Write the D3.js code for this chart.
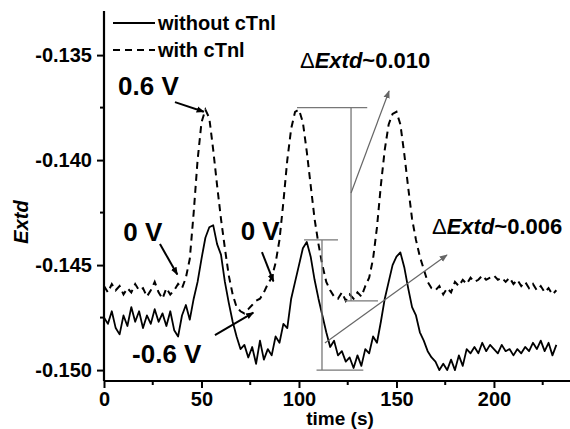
<!DOCTYPE html>
<html>
<head>
<meta charset="utf-8">
<script src="https://cdn.jsdelivr.net/npm/d3@7"></script>
<style>
  body { margin: 0; background: #fff; }
  svg { display: block; font-family: "Liberation Sans", Arial, sans-serif; }
  .tick text { font-weight: bold; font-size: 20px; }
</style>
</head>
<body>
<svg id="chart" width="570" height="429"></svg>
<script>
// time axis (s), shared by both curves
var times = d3.range(0, 233, 2);

// Extd without cTnI (solid)
var withoutCTnI = [
  -0.1475, -0.1478, -0.1472, -0.1480, -0.1483, -0.1474, -0.1479, -0.1470, -0.1477, -0.1472,
  -0.1480, -0.1474, -0.1478, -0.1471, -0.1477, -0.1473, -0.1479, -0.1472, -0.1481, -0.1484,
  -0.1474, -0.1469, -0.1476, -0.1466, -0.1458, -0.1447, -0.1437, -0.1432, -0.1431, -0.1440,
  -0.1445, -0.1458, -0.1468, -0.1477, -0.1484, -0.1490, -0.1488, -0.1494, -0.1489, -0.1497,
  -0.1486, -0.1495, -0.1490, -0.1493, -0.1484, -0.1487, -0.1478, -0.1480, -0.1466, -0.1458,
  -0.1450, -0.1442, -0.1439, -0.1446, -0.1457, -0.1466, -0.1474, -0.1482, -0.1489, -0.1486,
  -0.1493, -0.1491, -0.1496, -0.1494, -0.1499, -0.1493, -0.1498, -0.1490, -0.1492, -0.1484,
  -0.1487, -0.1477, -0.1466, -0.1458, -0.1450, -0.1446, -0.1444, -0.1451, -0.1461, -0.1470,
  -0.1474, -0.1482, -0.1486, -0.1491, -0.1494, -0.1496, -0.1500, -0.1497, -0.1500, -0.1495,
  -0.1500, -0.1493, -0.1498, -0.1490, -0.1492, -0.1489, -0.1492, -0.1487, -0.1491, -0.1488,
  -0.1490, -0.1492, -0.1488, -0.1491, -0.1490, -0.1493, -0.1490, -0.1492, -0.1489, -0.1491,
  -0.1487, -0.1490, -0.1486, -0.1491, -0.1487, -0.1493, -0.1488
];

// Extd with cTnI (dashed)
var withCTnI = [
  -0.1460, -0.1463, -0.1459, -0.1462, -0.1460, -0.1464, -0.1461, -0.1463, -0.1459, -0.1462,
  -0.1461, -0.1465, -0.1462, -0.1458, -0.1463, -0.1466, -0.1461, -0.1464, -0.1462, -0.1459,
  -0.1461, -0.1456, -0.1447, -0.1425, -0.1400, -0.1382, -0.1376, -0.1380, -0.1395, -0.1412,
  -0.1428, -0.1442, -0.1455, -0.1464, -0.1470, -0.1472, -0.1473, -0.1471, -0.1469, -0.1467,
  -0.1466, -0.1463, -0.1459, -0.1456, -0.1449, -0.1438, -0.1420, -0.1400, -0.1385, -0.1377,
  -0.1376, -0.1382, -0.1396, -0.1412, -0.1428, -0.1440, -0.1450, -0.1458, -0.1462, -0.1465,
  -0.1466, -0.1463, -0.1467, -0.1464, -0.1466, -0.1463, -0.1465, -0.1460, -0.1456, -0.1447,
  -0.1432, -0.1412, -0.1395, -0.1383, -0.1378, -0.1377, -0.1383, -0.1397, -0.1413, -0.1428,
  -0.1438, -0.1446, -0.1452, -0.1458, -0.1461, -0.1462, -0.1460, -0.1464, -0.1461, -0.1463,
  -0.1458, -0.1460, -0.1457, -0.1459, -0.1456, -0.1458, -0.1457, -0.1455, -0.1457, -0.1456,
  -0.1455, -0.1457, -0.1456, -0.1458, -0.1456, -0.1459, -0.1457, -0.1460, -0.1458, -0.1461,
  -0.1459, -0.1462, -0.1460, -0.1463, -0.1461, -0.1464, -0.1462
];

var xTicks = [0, 50, 100, 150, 200];
var yTicks = [-0.150, -0.145, -0.140, -0.135];

var svg = d3.select("#chart");

var x = d3.scaleLinear().domain([0, 239]).range([104, 570]);
var y = d3.scaleLinear().domain([-0.15052, -0.1329]).range([381, 11]);

// markers for the arrows
var defs = svg.append("defs");
[["headBlack", "#000"], ["headGray", "#666"]].forEach(function(m) {
  defs.append("marker")
    .attr("id", m[0])
    .attr("viewBox", "0 0 10 10")
    .attr("refX", 9).attr("refY", 5)
    .attr("markerWidth", m[0] === "headBlack" ? 4 : 8)
    .attr("markerHeight", m[0] === "headBlack" ? 4 : 8)
    .attr("markerUnits", m[0] === "headBlack" ? "strokeWidth" : "userSpaceOnUse")
    .attr("orient", "auto")
    .append("path")
    .attr("d", "M0,1 L10,5 L0,9 Z")
    .attr("fill", m[1]);
});

// axes
var xAxis = d3.axisBottom(x).tickValues(xTicks).tickSize(7).tickPadding(4).tickFormat(d3.format("d"));
var yAxis = d3.axisLeft(y).tickValues(yTicks).tickSize(7).tickPadding(5).tickFormat(d3.format(".3f"));

var gx = svg.append("g").attr("transform", "translate(0,381)").call(xAxis);
var gy = svg.append("g").attr("transform", "translate(104,0)").call(yAxis);

// minor ticks
gx.selectAll(".minor").data([25, 75, 125, 175, 225]).enter().append("line")
  .attr("class", "minor").attr("x1", x).attr("x2", x).attr("y1", 0).attr("y2", 4)
  .attr("stroke", "#000").attr("stroke-width", 2);
gy.selectAll(".minor").data([-0.1475, -0.1425, -0.1375]).enter().append("line")
  .attr("class", "minor").attr("y1", y).attr("y2", y).attr("x1", 0).attr("x2", -4)
  .attr("stroke", "#000").attr("stroke-width", 2);

[gx, gy].forEach(function(g) {
  g.select(".domain").attr("stroke-width", 2.2);
  g.selectAll(".tick line").attr("stroke-width", 2);
  g.selectAll(".tick text").attr("fill", "#000");
});
gy.select(".domain").attr("d", "M0,381V11");
gx.select(".domain").attr("d", "M104,0H570");
gy.selectAll(".tick text").text(function(d) { return d.toFixed(3); });

// axis titles
svg.append("text")
  .attr("x", 340).attr("y", 425)
  .attr("text-anchor", "middle")
  .style("font-weight", "bold").style("font-size", "19px")
  .text("time (s)");
svg.append("text")
  .attr("transform", "translate(28,222) rotate(-90)")
  .attr("text-anchor", "middle")
  .style("font-weight", "bold").style("font-style", "italic").style("font-size", "20px")
  .text("Extd");

// curves
var line = d3.line()
  .x(function(d) { return x(d[0]); })
  .y(function(d) { return y(d[1]); });

svg.append("path")
  .datum(times.map(function(t, i) { return [t, withoutCTnI[i]]; }))
  .attr("d", line)
  .attr("fill", "none").attr("stroke", "#000").attr("stroke-width", 1.8)
  .attr("stroke-linejoin", "round");

svg.append("path")
  .datum(times.map(function(t, i) { return [t, withCTnI[i]]; }))
  .attr("d", line)
  .attr("fill", "none").attr("stroke", "#000").attr("stroke-width", 2)
  .attr("stroke-dasharray", "7,5");

// legend
svg.append("line").attr("x1", 113).attr("x2", 155).attr("y1", 23).attr("y2", 23)
  .attr("stroke", "#000").attr("stroke-width", 2);
svg.append("line").attr("x1", 113).attr("x2", 155).attr("y1", 50).attr("y2", 50)
  .attr("stroke", "#000").attr("stroke-width", 2).attr("stroke-dasharray", "7,5");
svg.append("text").attr("x", 158).attr("y", 30)
  .style("font-weight", "bold").style("font-size", "20px").text("without cTnl");
svg.append("text").attr("x", 158).attr("y", 57)
  .style("font-weight", "bold").style("font-size", "20px").text("with cTnl");

// difference brackets (data units)
var brackets = [
  [[99, -0.1375], [135, -0.1375]],
  [[126.7, -0.1375], [126.7, -0.1467]],
  [[123.6, -0.1467], [140.5, -0.1467]],
  [[102.6, -0.1438], [120, -0.1438]],
  [[111.8, -0.1438], [111.8, -0.1500]],
  [[109, -0.1500], [133, -0.1500]]
];
svg.selectAll(".bracket").data(brackets).enter().append("line")
  .attr("class", "bracket")
  .attr("x1", function(d) { return x(d[0][0]); }).attr("y1", function(d) { return y(d[0][1]); })
  .attr("x2", function(d) { return x(d[1][0]); }).attr("y2", function(d) { return y(d[1][1]); })
  .attr("stroke", "#777").attr("stroke-width", 1.3);

// arrows (data units)
var arrows = [
  { from: [36.4, -0.13724], to: [51.2, -0.13770], c: "black" },
  { from: [28.7, -0.14400], to: [37.6, -0.14545], c: "black" },
  { from: [81.0, -0.14438], to: [86.9, -0.14578], c: "black" },
  { from: [56.9, -0.14833], to: [76.6, -0.14726], c: "black" },
  { from: [126.7, -0.14157], to: [146.2, -0.13671], c: "gray" },
  { from: [113.3, -0.14871], to: [175.9, -0.14452], c: "gray" }
];
svg.selectAll(".arrow").data(arrows).enter().append("line")
  .attr("class", "arrow")
  .attr("x1", function(d) { return x(d.from[0]); }).attr("y1", function(d) { return y(d.from[1]); })
  .attr("x2", function(d) { return x(d.to[0]); }).attr("y2", function(d) { return y(d.to[1]); })
  .attr("stroke", function(d) { return d.c === "black" ? "#000" : "#666"; })
  .attr("stroke-width", function(d) { return d.c === "black" ? 2 : 1.2; })
  .attr("marker-end", function(d) { return d.c === "black" ? "url(#headBlack)" : "url(#headGray)"; });

// voltage labels
var labels = [
  { t: 7.2, v: -0.13690, text: "0.6 V" },
  { t: 9.9, v: -0.14386, text: "0 V" },
  { t: 70.1, v: -0.14381, text: "0 V" },
  { t: 14.4, v: -0.14967, text: "-0.6 V" }
];
svg.selectAll(".vlabel").data(labels).enter().append("text")
  .attr("class", "vlabel")
  .attr("x", function(d) { return x(d.t); }).attr("y", function(d) { return y(d.v); })
  .style("font-weight", "bold").style("font-size", "26px")
  .text(function(d) { return d.text; });

// delta labels
var deltas = [
  { t: 100.5, v: -0.13562, val: "~0.010" },
  { t: 168.2, v: -0.14352, val: "~0.006" }
];
deltas.forEach(function(d) {
  var t = svg.append("text")
    .attr("x", x(d.t)).attr("y", y(d.v))
    .style("font-size", "22px");
  t.append("tspan").text("\u0394");
  t.append("tspan").style("font-weight", "bold").style("font-style", "italic").text("Extd");
  t.append("tspan").style("font-weight", "bold").text(d.val);
});
</script>
</body>
</html>
